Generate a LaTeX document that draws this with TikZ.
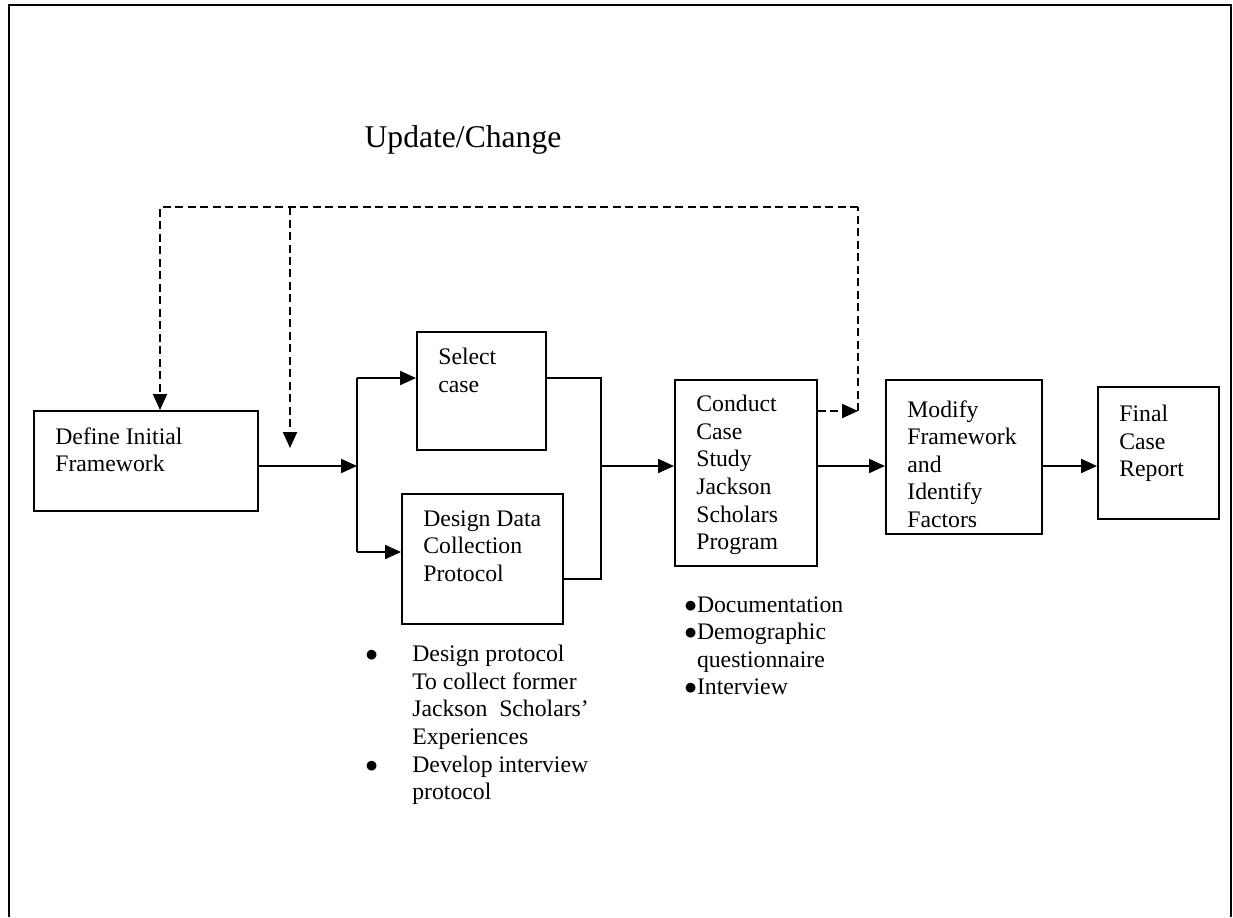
\documentclass[tikz,border=0pt]{standalone}
\usepackage{fontspec}
\setmainfont{Liberation Serif}
\usetikzlibrary{arrows.meta}

\tikzstyle{process} = [rectangle, draw=black, line width=1pt, anchor=north west, inner sep=0pt]
\tikzstyle{boxtext} = [anchor=north west, align=left, inner sep=0pt, font=\fontsize{13.5}{15.7}\selectfont]
\tikzstyle{notes} = [anchor=north west, align=left, inner sep=0pt, font=\fontsize{13.5}{15.7}\selectfont]
\tikzstyle{line} = [line width=1.2pt]
\tikzstyle{arrow} = [line width=1.2pt, -{Triangle[length=0.32cm, width=0.28cm]}]
\tikzstyle{dline} = [line width=0.7pt, dash pattern=on 0.16cm off 0.09cm]
\tikzstyle{darrow} = [line width=1.2pt, dash pattern=on 0.16cm off 0.09cm, -{Triangle[length=0.32cm, width=0.28cm]}]

\newcommand{\dotb}{$\bullet$}
\newcommand{\bul}{\makebox[0.94cm][l]{\dotb}}
\newcommand{\nobul}{\hspace*{0.94cm}}

\begin{document}
\begin{tikzpicture}[x=0.02cm, y=-0.02cm]

  \useasboundingbox (0,0) rectangle (1233,917);
  \draw [line] (9,917) -- (9,5) -- (1231,5) -- (1231,917);

  \node (title) at (463,140) {\fontsize{18}{21}\selectfont Update/Change};

  \node (define)  [process, minimum width=4.48cm, minimum height=2.00cm] at (33,410)  {};
  \node (select)  [process, minimum width=2.58cm, minimum height=2.36cm] at (416,331) {};
  \node (design)  [process, minimum width=3.22cm, minimum height=2.60cm] at (401,493) {};
  \node (conduct) [process, minimum width=2.84cm, minimum height=3.72cm] at (674,379) {};
  \node (modify)  [process, minimum width=3.12cm, minimum height=3.08cm] at (885,379) {};
  \node (final)   [process, minimum width=2.42cm, minimum height=2.64cm] at (1097,386) {};

  \node (define-t)  [boxtext] at ([xshift=0.44cm, yshift=-0.34cm]define.north west)  {Define Initial\\Framework};
  \node (select-t)  [boxtext] at ([xshift=0.44cm, yshift=-0.34cm]select.north west)  {Select\\case};
  \node (design-t)  [boxtext] at ([xshift=0.44cm, yshift=-0.34cm]design.north west)  {Design Data\\Collection\\Protocol};
  \node (conduct-t) [boxtext] at ([xshift=0.44cm, yshift=-0.32cm]conduct.north west) {Conduct\\Case\\Study\\Jackson\\Scholars\\Program};
  \node (modify-t)  [boxtext] at ([xshift=0.44cm, yshift=-0.42cm]modify.north west)  {Modify\\Framework\\and\\Identify\\Factors};
  \node (final-t)   [boxtext] at ([xshift=0.44cm, yshift=-0.38cm]final.north west)   {Final\\Case\\Report};

  \node (design-n)  [notes] at (365,645) {\bul Design protocol\\\nobul To collect former\\\nobul Jackson\ \ Scholars'\\\nobul Experiences\\\bul Develop interview\\\nobul protocol};
  \node (conduct-n) [notes] at (684,596) {\dotb Documentation\\\dotb Demographic\\\phantom{\dotb}questionnaire\\\dotb Interview};

  % --- %

  \coordinate (forktop) at (357,378);
  \coordinate (fork)    at (357,466);
  \coordinate (forkbot) at (357,552);
  \coordinate (jointop) at (601,378);
  \coordinate (join)    at (601,466);
  \coordinate (joinbot) at (601,579);

  \draw [arrow] (define.east |- fork) -- (fork);
  \draw [line] (forktop) -- (forkbot);
  \draw [arrow] (forktop) -- (forktop -| select.west);
  \draw [arrow] (forkbot) -- (forkbot -| design.west);
  \draw [line] (select.east |- jointop) -- (jointop) -- (joinbot) -- (design.east |- joinbot);
  \draw [arrow] (join) -- (join -| conduct.west);
  \draw [arrow] (conduct.east |- join) -- (join -| modify.west);
  \draw [arrow] (modify.east |- join) -- (join -| final.west);

  % --- %

  \coordinate (upL)   at (160,207);
  \coordinate (upM)   at (290,207);
  \coordinate (upMe)  at (290,448);
  \coordinate (upR)   at (858,207);
  \coordinate (upRe)  at (858,411);

  \draw [dline] (upRe) -- (upR);
  \draw [darrow] (upR) -- (upL) -- (upL |- define.north);
  \draw [darrow] (upM) -- (upMe);
  \draw [darrow] (conduct.east |- upRe) -- (upRe);

\end{tikzpicture}
\end{document}
